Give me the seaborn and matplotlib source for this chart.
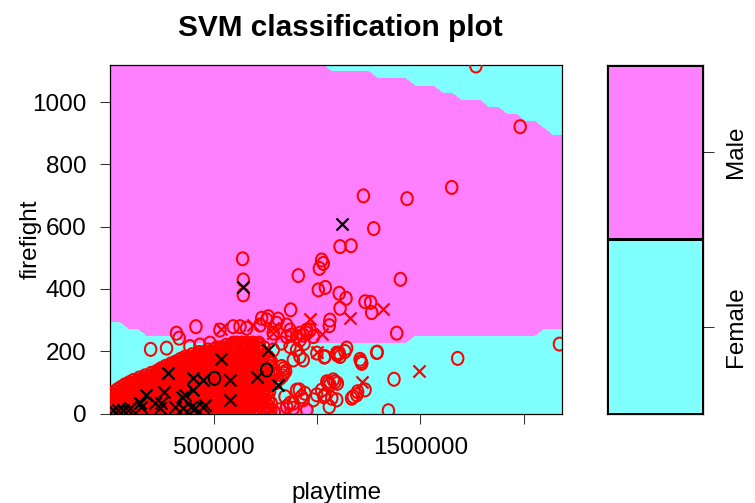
import numpy as np
import matplotlib
matplotlib.use("Agg")
import matplotlib.pyplot as plt
from matplotlib.path import Path
from matplotlib.tri import Triangulation
from matplotlib.colors import ListedColormap
import seaborn as sns

# ---------------- data ----------------
title = "SVM classification plot"
x_name = "playtime"
y_name = "firefight"
class_names = ["Female", "Male"]
class_colors = ["#80FFFF", "#FF80FF"]

playtime_range = [0, 2186000]
firefight_range = [0, 1120]
grid_size = 50

x_ticks = [500000, 1000000, 1500000, 2000000]
x_tick_labels = ["500000", "", "1500000", ""]
y_ticks = [0, 200, 400, 600, 800, 1000]
y_tick_labels = ["0", "200", "400", "600", "800", "1000"]

# predicted class boundaries (firefight) per playtime segment
lower_seg_start = [0, 67000, 156000, 335000, 1450000, 2075000]
lower_seg_ff = [290, 265, 240, 220, 240, 265]
upper_seg_start = [0, 1049000, 1272000, 1450000, 1584000, 1673000,
                   1807000, 1896000, 1985000, 2075000, 2119000]
upper_seg_ff = [1125, 1105, 1085, 1060, 1040, 1015, 990, 970, 945, 925, 900]
pocket_playtime = [650000, 1000000]
pocket_ff = 30

# observations (playtime in thousands)
male_o_pt = [1768, 1982, 1651, 1224, 1435, 1274, 1111, 1164, 640, 1022, 1030, 1011,
             909, 1403, 643, 643, 1006, 1040, 1107, 1140, 1111, 1232, 1259, 1264, 872,
             1059, 1385, 414, 320, 333, 195, 272, 2172, 1680, 1291, 1208, 1212, 1372,
             1345, 1107, 1135, 1098, 1035, 999, 732, 764, 812, 1062,
             1047, 1062, 1087, 1022, 1038, 998, 1071, 982, 941, 901, 925, 885, 853,
             1167, 1192, 1232, 917, 933, 885, 1038, 1095, 1111, 1143, 1216, 1288,
             1078, 1098, 1095, 1059, 1033, 933, 869, 845, 914, 1054, 1175, 1196, 885,
             950, 820, 756, 853, 901, 933, 966, 917, 869, 829,
             530, 594, 627, 659, 724, 756, 804, 853, 788, 869, 917, 950,
             385, 433, 482, 530, 594, 659, 724, 788, 877, 950, 982, 937, 901]
male_o_ff = [1116, 921, 726, 699, 690, 594, 536, 539, 497, 493, 482, 466,
             443, 431, 429, 381, 397, 405, 386, 370, 338, 359, 357, 324, 333,
             282, 258, 279, 258, 242, 206, 210, 223, 177, 197, 174, 167, 110,
             9, 194, 199, 188, 181, 194, 306, 311, 303, 300,
             102, 92, 102, 75, 60, 60, 49, 44, 65, 75, 54, 33, 22,
             49, 60, 76, 183, 172, 172, 183, 194, 183, 210, 161, 196,
             108, 97, 44, 22, 54, 44, 33, 54, 76, 97, 54, 70, 17,
             12, 12, 17, 247, 247, 252, 268, 236, 215, 226,
             268, 279, 279, 274, 284, 301, 290, 284, 258, 268, 258, 268,
             215, 220, 226, 210, 226, 220, 210, 204, 252, 258, 247, 225, 204]

# dense group of Male observations at low playtime, one list per firefight level
cluster_ff = [4, 11, 18, 25, 33, 40, 47, 55, 62, 70, 77, 84, 92, 99, 106, 114, 121,
              129, 136, 144, 151, 159, 166, 174, 181, 189, 196, 204, 211, 219, 226]
cluster_pt = [
    [8, 31, 55, 78, 102, 126, 149, 174, 198, 221, 246, 270, 293, 318, 342, 366, 389,
     414, 438, 462, 486, 511, 535, 559, 583, 608, 632, 657, 688, 721, 758, 793],
    [20, 43, 67, 90, 114, 138, 162, 186, 210, 234, 258, 282, 306, 330, 354, 378, 402,
     426, 450, 474, 498, 523, 547, 571, 595, 620, 645, 672, 703, 740, 776],
    [15, 40, 63, 88, 111, 136, 160, 185, 209, 233, 257, 282, 306, 330, 354, 379, 403,
     427, 451, 476, 500, 524, 548, 573, 597, 621, 646, 674, 704, 738],
    [3, 28, 51, 76, 100, 124, 148, 173, 197, 221, 245, 270, 294, 318, 342, 367, 391,
     415, 439, 464, 488, 512, 536, 561, 585, 610, 635, 662, 693, 728, 762],
    [4, 27, 52, 75, 99, 123, 147, 172, 196, 219, 244, 268, 291, 316, 340, 364, 388,
     412, 436, 461, 485, 509, 533, 557, 582, 606, 631, 656, 683, 713, 744, 778],
    [16, 40, 64, 88, 112, 136, 160, 184, 208, 232, 256, 280, 304, 328, 352, 376, 400,
     424, 449, 473, 497, 521, 545, 570, 594, 618, 644, 670, 698, 730, 765],
    [17, 42, 66, 90, 114, 139, 163, 187, 211, 236, 260, 284, 308, 333, 357, 381, 405,
     430, 454, 478, 502, 527, 551, 575, 599, 624, 649, 675, 702, 734],
    [21, 45, 70, 93, 118, 142, 166, 190, 214, 238, 262, 287, 311, 335, 359, 383, 407,
     432, 456, 480, 504, 528, 553, 577, 601, 626, 652, 679, 708, 741],
    [9, 33, 58, 81, 105, 130, 154, 177, 202, 226, 250, 275, 298, 322, 347, 371, 395,
     419, 444, 468, 492, 516, 541, 565, 589, 614, 638, 664, 692, 724, 758],
    [22, 47, 71, 96, 120, 145, 169, 193, 217, 242, 266, 290, 314, 338, 363, 387, 411,
     436, 460, 484, 508, 533, 557, 581, 606, 630, 655, 681, 708, 737, 770],
    [35, 60, 84, 108, 133, 157, 181, 206, 229, 254, 278, 302, 326, 351, 375, 399, 423,
     448, 472, 496, 520, 545, 569, 593, 618, 642, 667, 694, 722, 751],
    [52, 83, 107, 132, 156, 180, 205, 229, 253, 277, 302, 326, 350, 374, 399, 423, 447,
     472, 496, 520, 545, 569, 593, 618, 643, 668, 695, 723, 755],
    [70, 95, 120, 144, 168, 193, 217, 241, 266, 290, 314, 338, 363, 387, 411, 435, 460,
     484, 508, 532, 557, 581, 605, 630, 654, 680, 707, 737, 769],
    [92, 117, 141, 165, 190, 214, 238, 262, 287, 311, 335, 359, 384, 408, 432, 457, 481,
     505, 530, 554, 578, 602, 627, 652, 678, 705, 734, 768, 800],
    [111, 136, 159, 184, 208, 232, 257, 281, 305, 329, 354, 378, 402, 426, 451, 475,
     499, 523, 548, 572, 596, 621, 645, 671, 699, 729, 764, 808],
    [140, 164, 188, 213, 237, 261, 285, 310, 334, 358, 382, 407, 431, 455, 479, 504,
     528, 552, 577, 601, 625, 651, 677, 705, 737, 776, 822],
    [168, 193, 218, 242, 266, 290, 315, 339, 363, 387, 412, 436, 460, 484, 509, 533,
     557, 582, 606, 630, 655, 681, 709, 741, 788, 833],
    [198, 222, 246, 270, 295, 319, 343, 367, 392, 416, 440, 464, 489, 513, 537, 561,
     586, 610, 634, 659, 685, 713, 745, 795, 840],
    [226, 250, 273, 298, 322, 346, 370, 395, 419, 443, 467, 492, 516, 540, 564, 589,
     613, 637, 662, 689, 717, 749, 798, 848],
    [245, 270, 294, 318, 342, 367, 391, 415, 439, 464, 488, 512, 536, 561, 585, 609,
     634, 659, 685, 712, 743, 787, 838],
    [266, 289, 313, 338, 362, 386, 410, 434, 459, 483, 507, 531, 556, 580, 604, 628,
     653, 678, 705, 734, 774, 829],
    [292, 316, 340, 364, 389, 413, 437, 461, 486, 510, 534, 558, 583, 607, 631, 656,
     681, 707, 736, 777],
    [317, 341, 366, 390, 414, 438, 463, 487, 511, 535, 560, 584, 608, 632, 657, 682,
     709, 739, 779],
    [339, 363, 387, 411, 436, 460, 484, 508, 533, 557, 581, 605, 630, 654, 679, 705,
     734, 770],
    [361, 385, 409, 433, 457, 482, 506, 530, 554, 579, 603, 627, 651, 676, 701, 729, 764],
    [395, 420, 444, 468, 492, 517, 541, 565, 589, 614, 638, 663, 688, 715, 745],
    [431, 455, 479, 503, 528, 552, 576, 600, 625, 649, 673, 699, 727],
    [472, 497, 521, 545, 570, 594, 618, 643, 668, 694, 722],
    [514, 539, 563, 588, 612, 636, 661, 685, 711, 744],
    [560, 585, 610, 636, 662, 690, 718],
    [611, 636, 661, 689, 719],
]

male_x_pt = [965, 1159, 1320, 1022, 1493, 1216, 691, 788, 536, 49, 998, 788]
male_x_ff = [305, 306, 335, 255, 137, 102, 284, 258, 272, 65, 198, 274]

female_x_pt = [1119, 640, 764, 708, 812, 536, 278, 399, 448, 577, 577, 173, 262, 359,
               399, 36, 85, 149, 214, 246, 311, 351, 391, 456, 143, 345, 449, 240,
               14, 62, 94, 409]
female_x_ff = [608, 405, 204, 118, 92, 174, 129, 113, 108, 108, 44, 60, 70, 60,
               76, 12, 12, 22, 33, 33, 22, 17, 22, 28, 33, 54, 22, 17,
               12, 12, 17, 17]

female_o_pt = [756, 504]
female_o_ff = [140, 113]

# ---------------- style ----------------
sns.set_style("white")
plt.rcParams["font.family"] = ["Liberation Sans", "DejaVu Sans"]
plt.rcParams["text.color"] = "black"
plt.rcParams["axes.labelcolor"] = "black"
plt.rcParams["xtick.color"] = "black"
plt.rcParams["ytick.color"] = "black"
FS = 17.5

fig = plt.figure(figsize=(7.55, 5.03), dpi=100)
ax = fig.add_axes([0.1461, 0.1779, 0.5987, 0.6934])
cax = fig.add_axes([0.8036, 0.1769, 0.1280, 0.6944])

# ---------------- class regions on the prediction grid ----------------
xs = np.linspace(playtime_range[0], playtime_range[1], grid_size)
ys = np.linspace(firefight_range[0], firefight_range[1], grid_size)
lo = np.asarray(lower_seg_ff)[np.searchsorted(lower_seg_start, xs, side="right") - 1]
hi = np.asarray(upper_seg_ff)[np.searchsorted(upper_seg_start, xs, side="right") - 1]
GX, GY = np.meshgrid(xs, ys)
is_male = (GY >= lo[None, :]) & (GY <= hi[None, :])
is_male |= (GX >= pocket_playtime[0]) & (GX <= pocket_playtime[1]) & (GY <= pocket_ff)
Z = np.where(is_male, 2.0, 1.0)

# split each grid cell into two triangles so that a lone corner is cut off diagonally
zf = Z.ravel()
tris = []
for j in range(grid_size - 1):
    for i in range(grid_size - 1):
        a = j * grid_size + i
        b = a + 1
        c = a + grid_size
        d = c + 1
        vals = [zf[a], zf[b], zf[c], zf[d]]
        n_m = sum(v == 2 for v in vals)
        if n_m in (1, 3):
            major = 2.0 if n_m == 3 else 1.0
            odd = [k for k, v in zip((a, b, c, d), vals) if v != major][0]
            if odd in (a, d):
                tris += [(a, b, c), (b, d, c)]
            else:
                tris += [(a, b, d), (a, d, c)]
        else:
            tris += [(a, b, d), (a, d, c)]
tri = Triangulation(GX.ravel(), GY.ravel(), np.array(tris))
ax.set_facecolor(class_colors[0])
ax.tricontourf(tri, zf, levels=[1.99, 2.5], colors=[class_colors[1]], zorder=1)

# ---------------- observations ----------------
ring0 = Path.unit_circle()
ring = Path(ring0.vertices * np.array([0.88, 1.0]), ring0.codes)
O_SIZE = 88
X_SIZE = 76
LW = 1.45

c_pt = np.concatenate([np.asarray(r, float) for r in cluster_pt])
c_ff = np.concatenate([np.full(len(r), f, float) for r, f in zip(cluster_pt, cluster_ff)])
all_o_pt = np.concatenate([np.asarray(male_o_pt, float), c_pt]) * 1000
all_o_ff = np.concatenate([np.asarray(male_o_ff, float), c_ff])

sns.scatterplot(x=all_o_pt, y=all_o_ff, marker=ring, s=O_SIZE, facecolor="none",
                edgecolor="#FF0000", linewidth=LW, ax=ax, legend=False, zorder=3)
sns.scatterplot(x=np.asarray(male_x_pt) * 1000, y=male_x_ff, marker="x", s=X_SIZE,
                color="#FF0000", linewidth=1.6, ax=ax, legend=False, zorder=3)
sns.scatterplot(x=np.asarray(female_x_pt) * 1000, y=female_x_ff, marker="x", s=X_SIZE,
                color="black", linewidth=1.6, ax=ax, legend=False, zorder=4)
sns.scatterplot(x=np.asarray(female_o_pt) * 1000, y=female_o_ff, marker=ring, s=O_SIZE,
                facecolor="none", edgecolor="black", linewidth=LW, ax=ax, legend=False,
                zorder=4)

ax.set_xlim(playtime_range)
ax.set_ylim(firefight_range)
ax.set_xticks(x_ticks)
ax.set_xticklabels(x_tick_labels)
ax.set_yticks(y_ticks)
ax.set_yticklabels(y_tick_labels)
ax.tick_params(axis="both", which="both", direction="out", length=7.2, width=0.75,
               color="#333333", labelcolor="black", labelsize=FS, pad=10,
               bottom=True, left=True, top=False, right=False)
for s in ax.spines.values():
    s.set_visible(True)
    s.set_color("black")
    s.set_linewidth(0.9)

ax.set_xlabel(x_name, fontsize=FS, color="black")
ax.set_ylabel(y_name, fontsize=FS, color="black")
ax.xaxis.set_label_coords(0.5, -0.1955)
ax.yaxis.set_label_coords(-0.1518, 0.5)
ax.set_title(title, fontsize=21.4, fontweight="bold", pad=21, color="black", x=0.508)

# ---------------- class key ----------------
cax.pcolormesh([0, 1], [1, 2, 3], np.array([[1], [2]]),
               cmap=ListedColormap(class_colors), vmin=0.5, vmax=2.5,
               edgecolors="black", linewidth=0.8)
cax.set_xlim(0, 1)
cax.set_ylim(1, 3)
cax.set_xticks([])
cax.yaxis.tick_right()
cax.set_yticks([1.5, 2.5])
cax.set_yticklabels(class_names, rotation=90, va="center")
cax.tick_params(axis="y", direction="out", length=7.9, width=0.75, color="#333333",
                labelcolor="black", labelsize=FS, pad=8, right=True, left=False)
for s in cax.spines.values():
    s.set_visible(True)
    s.set_color("black")
    s.set_linewidth(0.9)

fig.savefig("out.png", dpi=100)
